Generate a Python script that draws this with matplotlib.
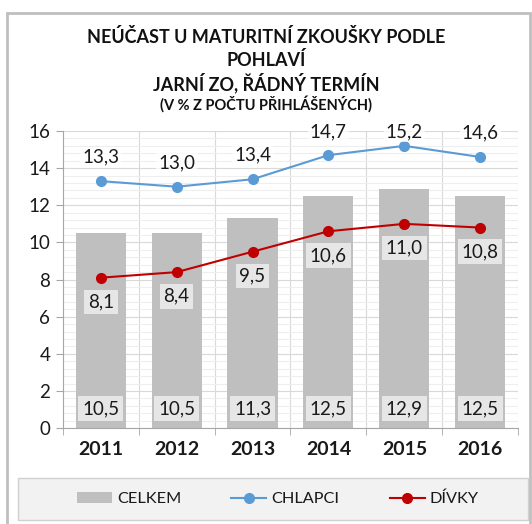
import matplotlib
matplotlib.use("Agg")
import matplotlib.pyplot as plt
from matplotlib.patches import Rectangle
from matplotlib.lines import Line2D
from matplotlib.ticker import MultipleLocator, FixedLocator

plt.rcParams['font.family'] = ['Lato', 'DejaVu Sans']

# data
years = ['2011', '2012', '2013', '2014', '2015', '2016']
celkem = [10.5, 10.5, 11.3, 12.5, 12.9, 12.5]
chlapci = [13.3, 13.0, 13.4, 14.7, 15.2, 14.6]
divky = [8.1, 8.4, 9.5, 10.6, 11.0, 10.8]

bar_col = '#bfbfbf'
blue = '#5b9bd5'
red = '#c00000'
lab_box = '#e6e6e6'
txt = '#1a1a1a'

def fmt(v):
    return f'{v:.1f}'.replace('.', ',')

fig = plt.figure(figsize=(5.32, 5.24), dpi=100)
ax = fig.add_axes([0.118, 0.183, 0.856, 0.567])

x = list(range(len(years)))
ax.bar(x, celkem, width=0.66, color=bar_col, zorder=2)
ax.plot(x, chlapci, color=blue, lw=1.5, marker='o', ms=7, zorder=4)
ax.plot(x, divky, color=red, lw=1.5, marker='o', ms=7, zorder=4)

for i in x:
    ax.text(i, 1.05, fmt(celkem[i]), ha='center', va='center', fontsize=13.5,
            color=txt, zorder=5,
            bbox=dict(boxstyle='square,pad=0.22', fc=lab_box, ec='none'))
    ax.text(i, min(chlapci[i] + 1.3, 15.95), fmt(chlapci[i]), ha='center',
            va='center', fontsize=13.5, color=txt, zorder=5,
            bbox=dict(boxstyle='square,pad=0.1', fc='white', ec='none', alpha=0.75))
    ax.text(i, divky[i] - 1.3, fmt(divky[i]), ha='center', va='center',
            fontsize=13.5, color=txt, zorder=5,
            bbox=dict(boxstyle='square,pad=0.2', fc=lab_box, ec='none'))

ax.set_xlim(-0.5, 5.5)
ax.set_ylim(0, 16)
ax.yaxis.set_major_locator(MultipleLocator(2))
ax.yaxis.set_minor_locator(MultipleLocator(0.4))
ax.grid(axis='y', which='major', color='#d9d9d9', lw=0.8, zorder=0)
ax.grid(axis='y', which='minor', color='#eeeeee', lw=0.8, zorder=0)
for b in [0.5, 1.5, 2.5, 3.5, 4.5, 5.5]:
    ax.axvline(b, color='#d9d9d9', lw=0.8, zorder=0)

ax.set_xticks(x)
ax.set_xticklabels(years, fontsize=14, fontweight='bold', color=txt)
ax.xaxis.set_minor_locator(FixedLocator([-0.5, 0.5, 1.5, 2.5, 3.5, 4.5, 5.5]))
ax.tick_params(axis='x', which='major', length=0, pad=9)
ax.tick_params(axis='x', which='minor', length=5, color='#a6a6a6', direction='out')
ax.tick_params(axis='y', which='major', labelsize=13.5, labelcolor=txt,
               length=5, color='#a6a6a6', pad=4)
ax.tick_params(axis='y', which='minor', length=0)
for s in ['top', 'right']:
    ax.spines[s].set_visible(False)
for s in ['left', 'bottom']:
    ax.spines[s].set_color('#a6a6a6')

# titles
fig.text(0.5, 1 - 37 / 524, 'NEÚČAST U MATURITNÍ ZKOUŠKY PODLE', ha='center',
         va='center', fontsize=13, fontweight='bold', color='#111111')
fig.text(0.5, 1 - 60 / 524, 'POHLAVÍ', ha='center', va='center',
         fontsize=13, fontweight='bold', color='#111111')
fig.text(0.5, 1 - 83 / 524, 'JARNÍ ZO, ŘÁDNÝ TERMÍN', ha='center', va='center',
         fontsize=13, fontweight='bold', color='#111111')
fig.text(0.5, 1 - 104 / 524, '(V % Z POČTU PŘIHLÁŠENÝCH)', ha='center',
         va='center', fontsize=10.5, fontweight='bold', color='#111111')

# outer frame
fig.patches.append(Rectangle((7 / 532, -0.01), 523 / 532, 1 - 13 / 524 + 0.01,
                             transform=fig.transFigure, fill=False,
                             ec='#bfbfbf', lw=2))

handles = [Rectangle((0, 0), 1, 1, fc=bar_col, ec='none'),
           Line2D([0], [0], color=blue, lw=1.5, marker='o', ms=7),
           Line2D([0], [0], color=red, lw=1.5, marker='o', ms=7)]
leg = fig.legend(handles, ['CELKEM', 'CHLAPCI', 'DÍVKY'], ncol=3,
                 loc='center', bbox_to_anchor=(0.522, 1 - 499 / 524),
                 fontsize=11.7, frameon=False, handlelength=2.15,
                 handletextpad=0.3, columnspacing=3.1, labelcolor=txt)
fig.patches.append(Rectangle((18 / 532, 1 - 520 / 524), 510 / 532, 42 / 524,
                             transform=fig.transFigure, fc='#f2f2f2',
                             ec='#d0d0d0', lw=1, zorder=-1))

fig.savefig('out.png', dpi=100)
